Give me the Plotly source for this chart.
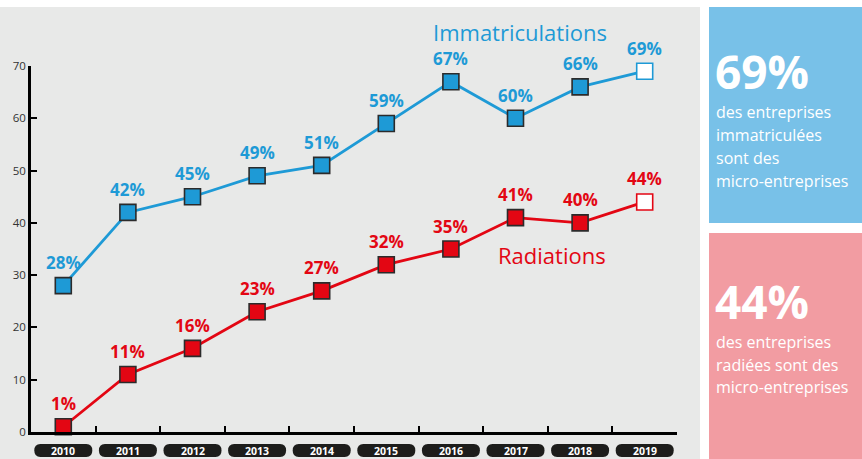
import plotly.graph_objects as go

years = ["2010", "2011", "2012", "2013", "2014", "2015", "2016", "2017", "2018", "2019"]
immat = [28, 42, 45, 49, 51, 59, 67, 60, 66, 69]
radia = [1, 11, 16, 23, 27, 32, 35, 41, 40, 44]
immat_labels = ["28%", "42%", "45%", "49%", "51%", "59%", "67%", "60%", "66%", "69%"]
radia_labels = ["1%", "11%", "16%", "23%", "27%", "32%", "35%", "41%", "40%", "44%"]
y_ticks = [0, 10, 20, 30, 40, 50, 60, 70]

BLUE = "#1e9ad6"
RED = "#e30613"
FONT = "Open Sans"

W, H = 862, 459
L, R, T, B = 31, 677, 66, 432  # plot area in pixels
x = list(range(len(years)))


def px(v):
    return (v - L) / (R - L)


def py(v):
    return (B - v) / (B - T)


fig = go.Figure()

for vals, col in ((immat, BLUE), (radia, RED)):
    n = len(vals)
    fig.add_trace(go.Scatter(
        x=x, y=vals, mode="lines+markers",
        line=dict(color=col, width=2.8),
        marker=dict(symbol="square", size=16,
                    color=[col] * (n - 1) + ["white"],
                    line=dict(color=["#2b2b2b"] * (n - 1) + [col], width=1.6)),
        cliponaxis=False, showlegend=False, hoverinfo="skip",
    ))

annotations = []
for xs, vals, labs, col in ((x, immat, immat_labels, BLUE), (x, radia, radia_labels, RED)):
    for xi, v, lab in zip(xs, vals, labs):
        annotations.append(dict(x=xi, y=v, text=lab, showarrow=False, yshift=23,
                                font=dict(family=FONT, size=17, color=col, weight="bold")))

shapes = []
# grey chart background
shapes.append(dict(type="rect", xref="paper", yref="paper", layer="below",
                   x0=px(0), x1=px(700), y0=py(459), y1=py(7),
                   fillcolor="#e8e9e8", line=dict(width=0)))
# side panels
shapes.append(dict(type="rect", xref="paper", yref="paper", layer="below",
                   x0=px(709), x1=px(862), y0=py(223), y1=py(7),
                   fillcolor="#78c1e8", line=dict(width=0)))
shapes.append(dict(type="rect", xref="paper", yref="paper", layer="below",
                   x0=px(709), x1=px(862), y0=py(459), y1=py(233),
                   fillcolor="#f29ca2", line=dict(width=0)))

# year pills
pill = "M -23,-12 L 23,-12 Q 29,-12 29,-18.5 Q 29,-25 23,-25 L -23,-25 Q -29,-25 -29,-18.5 Q -29,-12 -23,-12 Z"
for xi, yr in zip(x, years):
    shapes.append(dict(type="path", xref="x", yref="paper", xsizemode="pixel", ysizemode="pixel",
                       xanchor=xi, yanchor=0, path=pill, fillcolor="#1d1d1b",
                       line=dict(width=0), layer="above"))
    annotations.append(dict(x=xi, y=0, text=yr, showarrow=False, yshift=-19, yanchor="middle",
                            font=dict(family=FONT, size=10.5, color="white", weight="bold")))

# series names
annotations.append(dict(xref="paper", yref="paper", x=px(520), y=py(32), text="Immatriculations",
                        xanchor="center", yanchor="middle",
                        showarrow=False, font=dict(family=FONT, size=22, color=BLUE)))
annotations.append(dict(xref="paper", yref="paper", x=px(552), y=py(255), text="Radiations",
                        xanchor="center", yanchor="middle",
                        showarrow=False, font=dict(family=FONT, size=22, color=RED)))

# panel texts
annotations.append(dict(xref="paper", yref="paper", x=px(713), y=py(71), text="69%",
                        xanchor="left", yanchor="middle", showarrow=False,
                        font=dict(family=FONT, size=46, color="white", weight="bold")))
for i, line in enumerate(["des entreprises", "immatriculées", "sont des", "micro-entreprises"]):
    annotations.append(dict(xref="paper", yref="paper", x=px(714), y=py(112 + 23 * i), text=line,
                            xanchor="left", yanchor="middle", showarrow=False,
                            font=dict(family=FONT, size=16, color="white")))
annotations.append(dict(xref="paper", yref="paper", x=px(713), y=py(301), text="44%",
                        xanchor="left", yanchor="middle", showarrow=False,
                        font=dict(family=FONT, size=46, color="white", weight="bold")))
for i, line in enumerate(["des entreprises", "radiées sont des", "micro-entreprises"]):
    annotations.append(dict(xref="paper", yref="paper", x=px(714), y=py(342 + 22.5 * i), text=line,
                            xanchor="left", yanchor="middle", showarrow=False,
                            font=dict(family=FONT, size=16, color="white")))

fig.update_layout(
    width=W, height=H,
    margin=dict(l=L, r=W - R, t=T, b=H - B, pad=0),
    paper_bgcolor="white", plot_bgcolor="rgba(0,0,0,0)",
    font=dict(family=FONT, color="#333333"),
    shapes=shapes, annotations=annotations,
    xaxis=dict(range=[-0.5, 9.5], showgrid=False, zeroline=False,
               showline=True, linecolor="black", linewidth=2.5,
               tickmode="array", tickvals=[i + 0.5 for i in range(len(years))],
               ticks="inside", ticklen=6, tickwidth=2, tickcolor="black",
               showticklabels=False),
    yaxis=dict(range=[0, 70], showgrid=False, zeroline=False,
               showline=True, linecolor="black", linewidth=2.5,
               tickmode="array", tickvals=y_ticks,
               ticks="inside", ticklen=6, tickwidth=2, tickcolor="black",
               tickfont=dict(family=FONT, size=11.5, color="#333333")),
)

fig.write_html("out.html", config={"displayModeBar": False},
               post_script="document.body.style.margin='0';")
